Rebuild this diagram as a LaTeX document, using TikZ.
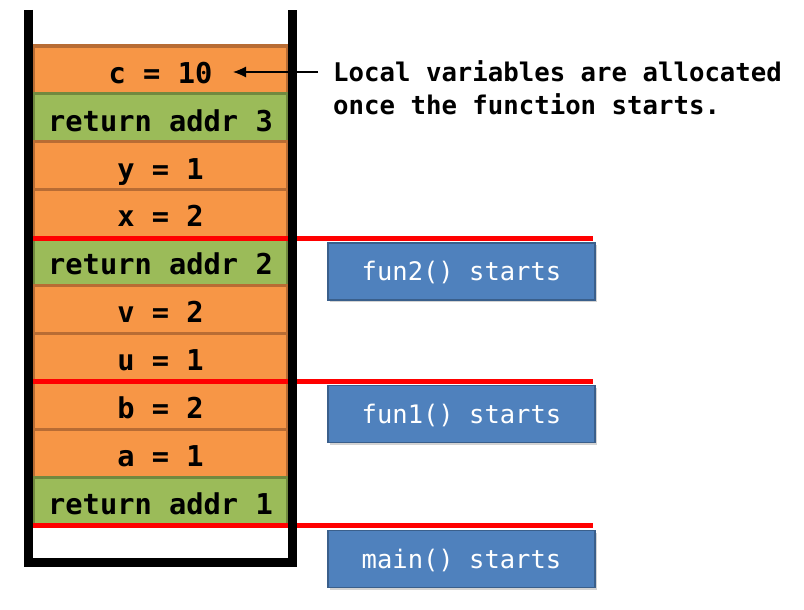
\documentclass[tikz,border=0pt]{standalone}
\usepackage{fontspec}
\newfontfamily\cons{DejaVu Sans Mono}
\usetikzlibrary{arrows.meta,shadows}
\definecolor{orangeF}{HTML}{F79646}
\definecolor{orangeD}{HTML}{B86C34}
\definecolor{greenF}{HTML}{9BBB59}
\definecolor{greenD}{HTML}{71893F}
\definecolor{blueF}{HTML}{4F81BD}
\definecolor{blueD}{HTML}{3A5F8B}
\tikzset{
  cellbase/.style={line width=3.2pt, minimum width=255pt, minimum height=47.9pt, inner sep=0pt,
    text height=26.5pt, text depth=0pt, font=\cons\bfseries\fontsize{28.7}{30}\selectfont},
  cello/.style={cellbase, fill=orangeF, draw=orangeD},
  cellg/.style={cellbase, fill=greenF, draw=greenD},
  startbox/.style={fill=blueF, draw=blueD, line width=1.5pt, minimum width=267pt, minimum height=57pt,
    inner sep=0pt, text=white, text height=18.6pt, text depth=0pt,
    font=\cons\fontsize{25.5}{30}\selectfont,
    drop shadow={opacity=0.35, shadow xshift=2pt, shadow yshift=-2pt}},
  notetext/.style={anchor=west, inner sep=0pt, text height=18.7pt, text depth=0pt,
    font=\cons\bfseries\fontsize{25.7}{33}\selectfont},
  frameline/.style={red, line width=5pt},
  wall/.style={black, line width=9pt},
  pointer/.style={-{Latex[length=13pt,width=11pt]}, line width=1.1pt}
}
\begin{document}
\begin{tikzpicture}[x=1pt,y=-1pt]
\useasboundingbox (0,0) rectangle (804,610);
% cells
\node[cello] (c1)  at (160.5, 69.95) {c = 10};
\node[cellg] (c2)  at (160.5,117.85) {return addr 3};
\node[cello] (c3)  at (160.5,165.75) {y = 1};
\node[cello] (c4)  at (160.5,213.65) {x = 2};
\node[cellg] (c5)  at (160.5,261.55) {return addr 2};
\node[cello] (c6)  at (160.5,309.45) {v = 2};
\node[cello] (c7)  at (160.5,357.35) {u = 1};
\node[cello] (c8)  at (160.5,405.25) {b = 2};
\node[cello] (c9)  at (160.5,453.15) {a = 1};
\node[cellg] (c10) at (160.5,501.05) {return addr 1};
% frame boundaries
\coordinate (r1a) at (33,238);  \coordinate (r1b) at (593,238);
\coordinate (r2a) at (33,381);  \coordinate (r2b) at (593,381);
\coordinate (r3a) at (33,525);  \coordinate (r3b) at (593,525);
\draw[frameline] (r1a) -- (r1b);
\draw[frameline] (r2a) -- (r2b);
\draw[frameline] (r3a) -- (r3b);
% pointer (drawn under the wall)
\node[notetext] (note1) at (333,72.5) {Local variables are allocated};
\node[notetext] (note2) at (333,105.5) {once the function starts.};
\coordinate (tip) at (233,72);
\draw[pointer] ([xshift=-15pt,yshift=0.5pt]note1.west) -- (tip);
% container walls
\coordinate (wtl) at (28.5,10);
\coordinate (wbl) at (28.5,562);
\coordinate (wbr) at (292.5,562);
\coordinate (wtr) at (292.5,10);
\draw[wall] (wtl) -- (wbl) -- (wbr) -- (wtr);
% start boxes
\node[startbox] (f2) at (461.5,271.5) {fun2() starts};
\node[startbox] (f1) at (461.5,414) {fun1() starts};
\node[startbox] (fm) at (461.5,559) {main() starts};
\end{tikzpicture}
\end{document}
